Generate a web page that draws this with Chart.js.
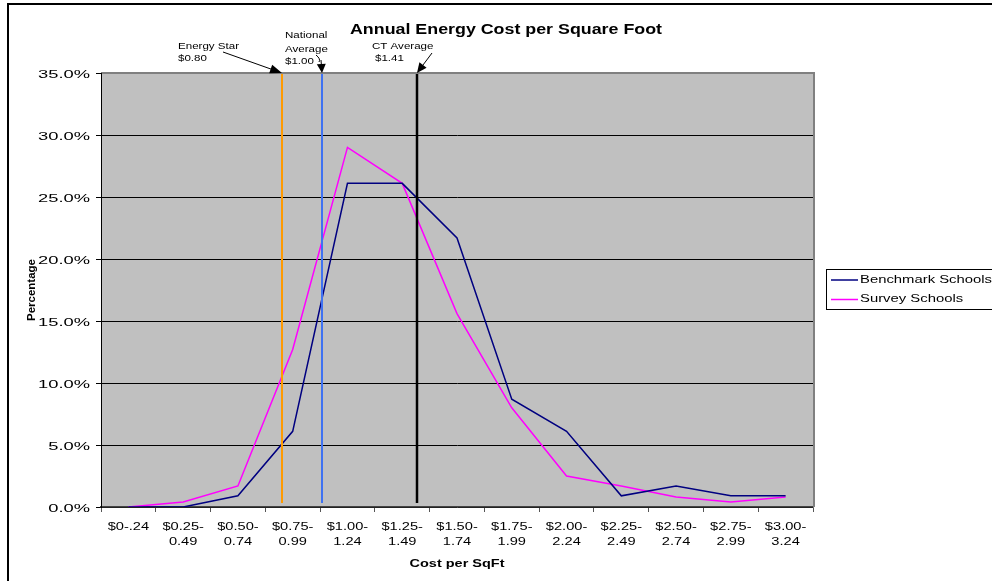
<!DOCTYPE html>
<html><head><meta charset="utf-8">
<script src="https://cdn.jsdelivr.net/npm/chart.js@4/dist/chart.umd.min.js"></script>
<style>html,body{margin:0;padding:0;background:#fff;}canvas{display:block;}</style>
</head><body>
<canvas id="c" width="992" height="581"></canvas>
<script>
// ---- data ----
const chartTitle = 'Annual Energy Cost per Square Foot';
const xAxisTitle = 'Cost per SqFt';
const yAxisTitle = 'Percentage';
const categories = [['$0-.24'],['$0.25-','0.49'],['$0.50-','0.74'],['$0.75-','0.99'],['$1.00-','1.24'],['$1.25-','1.49'],['$1.50-','1.74'],['$1.75-','1.99'],['$2.00-','2.24'],['$2.25-','2.49'],['$2.50-','2.74'],['$2.75-','2.99'],['$3.00-','3.24']];
const seriesNames = ['Benchmark Schools','Survey Schools'];
const benchmarkSchools = [0.0, 0.0, 0.9, 6.1, 26.1, 26.1, 21.7, 8.7, 6.1, 0.9, 1.7, 0.9, 0.9];
const surveySchools = [0.0, 0.4, 1.7, 12.7, 29.0, 26.1, 15.6, 8.0, 2.5, 1.7, 0.8, 0.4, 0.8];
const yTickValues = [0, 5, 10, 15, 20, 25, 30, 35];
const yTickLabels = ['0.0%','5.0%','10.0%','15.0%','20.0%','25.0%','30.0%','35.0%'];
const markerLabels = [['Energy Star','$0.80'],['National','Average','$1.00'],['CT Average','$1.41']];
const markerAxisPositions = [2.8, 3.54, 5.27]; // where each reference line sits on the category axis

// ---- helpers ----
const FONT = '"Liberation Sans", Arial, sans-serif';
function sText(ctx, text, x, y, font, sx, align, color) {
  ctx.save();
  ctx.font = font;
  ctx.fillStyle = color || '#000';
  ctx.textBaseline = 'alphabetic';
  ctx.textAlign = 'left';
  const w = ctx.measureText(text).width * sx;
  let left = x;
  if (align === 'center') left = x - w / 2;
  else if (align === 'right') left = x - w;
  ctx.translate(left, y);
  ctx.scale(sx, 1);
  ctx.fillText(text, 0, 0);
  ctx.restore();
}
function fitScale(ctx, sample, font, target) {
  ctx.save(); ctx.font = font; const w = ctx.measureText(sample).width; ctx.restore();
  return target / w;
}
function arrow(ctx, x0, y0, x1, y1, len, half) {
  const a = Math.atan2(y1 - y0, x1 - x0);
  ctx.beginPath();
  ctx.moveTo(x0, y0);
  ctx.lineTo(x1 - Math.cos(a) * len * 0.8, y1 - Math.sin(a) * len * 0.8);
  ctx.stroke();
  ctx.beginPath();
  ctx.moveTo(x1, y1);
  ctx.lineTo(x1 - Math.cos(a) * len + Math.sin(a) * half, y1 - Math.sin(a) * len - Math.cos(a) * half);
  ctx.lineTo(x1 - Math.cos(a) * len - Math.sin(a) * half, y1 - Math.sin(a) * len + Math.cos(a) * half);
  ctx.closePath();
  ctx.fill();
}

const markerColors = ['#FF9A00', '#3F72F2', '#000000'];
const markerWidths = [2, 2, 2.5];

const decor = {
  id: 'decor',
  beforeDraw(chart) {
    const ctx = chart.ctx, a = chart.chartArea;
    ctx.save();
    ctx.fillStyle = '#fff';
    ctx.fillRect(0, 0, chart.width, chart.height);
    ctx.fillStyle = '#C0C0C0';
    ctx.fillRect(a.left, a.top, a.right - a.left, a.bottom - a.top);
    ctx.restore();
  },
  afterDatasetsDraw(chart) {
    const ctx = chart.ctx, a = chart.chartArea, xs = chart.scales.x;
    ctx.save();
    markerAxisPositions.forEach((p, i) => {
      const x = Math.round(xs.getPixelForValue(p));
      ctx.strokeStyle = markerColors[i];
      ctx.lineWidth = markerWidths[i];
      ctx.beginPath();
      ctx.moveTo(x, a.top);
      ctx.lineTo(x, a.bottom - 4);
      ctx.stroke();
    });
    ctx.restore();
  },
  afterDraw(chart) {
    const ctx = chart.ctx, a = chart.chartArea, xs = chart.scales.x, ys = chart.scales.y;
    ctx.save();
    // plot border (top/right) in gray
    ctx.strokeStyle = '#808080';
    ctx.lineWidth = 2;
    ctx.beginPath();
    ctx.moveTo(a.left, a.top); ctx.lineTo(a.right + 1, a.top); ctx.lineTo(a.right + 1, a.bottom);
    ctx.stroke();
    // left axis line
    ctx.strokeStyle = '#000'; ctx.lineWidth = 1;
    ctx.beginPath(); ctx.moveTo(a.left + 0.5, a.top); ctx.lineTo(a.left + 0.5, a.bottom); ctx.stroke();
    // outer frame (top and left)
    ctx.fillStyle = '#000';
    ctx.fillRect(8, 3, chart.width - 8, 2);
    ctx.fillRect(7, 3, 2, chart.height - 3);

    // y tick labels
    const yFont = '11.5px ' + FONT;
    const ySx = fitScale(ctx, '35.0%', yFont, 52);
    yTickValues.forEach((v, i) => {
      const y = ys.getPixelForValue(v);
      sText(ctx, yTickLabels[i], 90, y + 4.5, yFont, ySx, 'right', '#000');
    });
    // x tick labels
    const xFont = '11.5px ' + FONT;
    const xSx = fitScale(ctx, '$0.25-', xFont, 41.5);
    categories.forEach((lines, i) => {
      const x = xs.getPixelForValue(i);
      lines.forEach((t, j) => sText(ctx, t, x, 529.5 + j * 15.5, xFont, xSx, 'center', '#000'));
    });
    // axis titles
    const atFont = 'bold 11px ' + FONT;
    sText(ctx, xAxisTitle, (a.left + a.right) / 2, 566.5, atFont, fitScale(ctx, xAxisTitle, atFont, 95), 'center', '#000');
    ctx.save();
    ctx.font = atFont;
    const pw = ctx.measureText(yAxisTitle).width;
    const psx = 62 / pw;
    ctx.translate(35, (a.top + a.bottom) / 2);
    ctx.rotate(-Math.PI / 2);
    ctx.scale(psx, 1);
    ctx.fillStyle = '#000';
    ctx.textAlign = 'center';
    ctx.textBaseline = 'alphabetic';
    ctx.fillText(yAxisTitle, 0, 0);
    ctx.restore();

    // title
    const tFont = 'bold 14px ' + FONT;
    sText(ctx, chartTitle, 350, 33.5, tFont, fitScale(ctx, chartTitle, tFont, 312), 'left', '#000');

    // legend
    ctx.strokeStyle = '#000'; ctx.lineWidth = 1;
    ctx.strokeRect(826.5, 269.5, 180, 40);
    const lFont = '10.2px ' + FONT;
    const lSx = fitScale(ctx, seriesNames[0], lFont, 132);
    const lColors = ['#000080', '#FF00FF'];
    seriesNames.forEach((n, i) => {
      const y = 280 + i * 19.5;
      ctx.strokeStyle = lColors[i]; ctx.lineWidth = 1.5;
      ctx.beginPath(); ctx.moveTo(831, y); ctx.lineTo(858, y); ctx.stroke();
      sText(ctx, n, 860, y + 2.5, lFont, lSx, 'left', '#000');
    });

    // annotations with arrows
    const aFont = '9.5px ' + FONT;
    const aSx = fitScale(ctx, 'Energy Star', aFont, 61);
    const tips = markerAxisPositions.map(p => Math.round(xs.getPixelForValue(p)));
    const top = a.top;
    ctx.strokeStyle = '#000'; ctx.fillStyle = '#000'; ctx.lineWidth = 1;
    // Energy Star
    sText(ctx, markerLabels[0][0], tips[0] - 104, 49, aFont, aSx, 'left', '#000');
    sText(ctx, markerLabels[0][1], tips[0] - 104, 60.5, aFont, aSx, 'left', '#000');
    arrow(ctx, tips[0] - 59, 52, tips[0], top, 12, 4.5);
    // National Average
    sText(ctx, markerLabels[1][0], tips[1] - 37, 38, aFont, aSx, 'left', '#000');
    sText(ctx, markerLabels[1][1], tips[1] - 37, 52, aFont, aSx, 'left', '#000');
    sText(ctx, markerLabels[1][2], tips[1] - 37, 64, aFont, aSx, 'left', '#000');
    ctx.beginPath();
    ctx.moveTo(tips[1] - 6, 55);
    ctx.quadraticCurveTo(tips[1] - 1, 59, tips[1] - 3, 62);
    ctx.stroke();
    arrow(ctx, tips[1] - 1, 60, tips[1], top, 9, 4.5);
    // CT Average
    sText(ctx, markerLabels[2][0], tips[2] - 45, 49, aFont, aSx, 'left', '#000');
    sText(ctx, markerLabels[2][1], tips[2] - 42, 60.5, aFont, aSx, 'left', '#000');
    arrow(ctx, tips[2] + 15, 53, tips[2], top, 10, 4.5);
    ctx.restore();
  }
};

new Chart(document.getElementById('c'), {
  type: 'line',
  data: {
    labels: categories,
    datasets: [
      { label: seriesNames[0], data: benchmarkSchools, borderColor: '#000080', borderWidth: 1.5, pointRadius: 0, tension: 0, fill: false },
      { label: seriesNames[1], data: surveySchools, borderColor: '#FF00FF', borderWidth: 1.5, pointRadius: 0, tension: 0, fill: false }
    ]
  },
  options: {
    responsive: false,
    devicePixelRatio: 1,
    animation: false,
    events: [],
    layout: { padding: { left: 0, right: 179, top: 73, bottom: 0 } },
    plugins: { legend: { display: false }, title: { display: false }, tooltip: { enabled: false } },
    scales: {
      x: {
        type: 'category',
        offset: true,
        grid: { offset: true, drawOnChartArea: false, drawTicks: true, tickLength: 5, color: '#555', lineWidth: 1 },
        border: { display: true, color: '#444', width: 1.5 },
        ticks: { display: false },
        afterFit: s => { s.height = 74; }
      },
      y: {
        min: 0, max: 35,
        afterBuildTicks: s => { s.ticks = yTickValues.map(v => ({ value: v })); },
        grid: { color: '#000', lineWidth: 1, drawTicks: true, tickLength: 5, tickColor: '#000' },
        border: { display: true, color: '#000', width: 1 },
        ticks: { display: false },
        afterFit: s => { s.width = 101; }
      }
    }
  },
  plugins: [decor]
});
</script>
</body></html>
